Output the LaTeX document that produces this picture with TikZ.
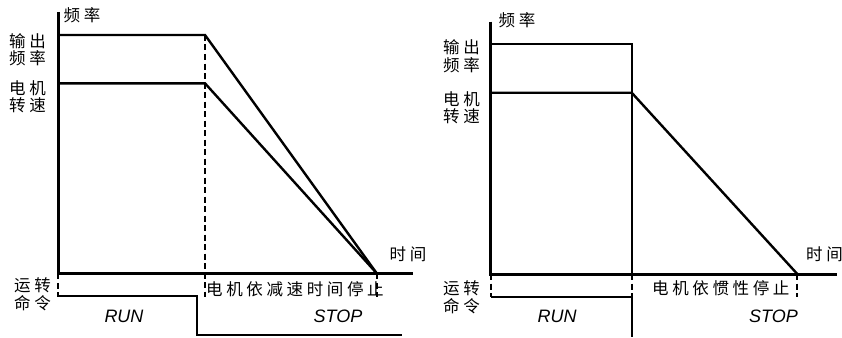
\documentclass[tikz,border=0pt]{standalone}
\usepackage{fontspec}
\setmainfont{Liberation Sans}
\newfontfamily\cjk[LetterSpace=22]{Noto Sans CJK SC}

\begin{document}
\begin{tikzpicture}[x=1pt,y=-1pt,
    axis/.style={line width=3pt},
    trace/.style={line width=2.4pt, line join=miter},
    guide/.style={line width=2pt, dash pattern=on 6pt off 3.5pt},
    cn/.style={font=\cjk\fontsize{16.5}{17.5}\selectfont, inner sep=0pt, align=center},
    sig/.style={font=\itshape\fontsize{18}{20}\selectfont, inner sep=0pt}]
\useasboundingbox (0,0) rectangle (842,337);

% left chart: stop by deceleration time
\coordinate (Lo) at (58.3,273.3);
\coordinate (Ltop) at (58.3,12);
\coordinate (Lend) at (413,273.3);
\coordinate (Lfo) at (58.3,35);
\coordinate (Lfb) at (205,35);
\coordinate (Lmo) at (58.3,83.3);
\coordinate (Lmb) at (205,83.3);
\coordinate (Lz) at (376.7,273.3);
\coordinate (Lcut) at (205,297);
\coordinate (Lrs) at (58.3,297);
\coordinate (Lzs) at (376.7,297);
\coordinate (Lr1) at (58.3,296);
\coordinate (Lr2) at (196.7,296);
\coordinate (Lr3) at (196.7,335);
\coordinate (Lr4) at (401.7,335);

\draw[axis] (Ltop) -- (Lo) -- (Lend);
\draw[trace] (Lfo) -- (Lfb) -- (Lz);
\draw[trace] (Lmo) -- (Lmb) -- (Lz);
\draw[guide] (Lfb) -- (Lcut);
\draw[guide] (Lo) -- (Lrs);
\draw[guide] (Lz) -- (Lzs);
\draw[trace] (Lr1) -- (Lr2) -- (Lr3) -- (Lr4);

\node[cn] (Lfreq) at (82,15.5) {频率};
\node[cn] (Lout) at (27.5,49.5) {输出\\频率};
\node[cn] (Lmot) at (27.5,96.5) {电机\\转速};
\node[cn] (Lcmd) at (32.5,294.5) {运转\\命令};
\node[cn] (Ltime) at (408,254.5) {时间};
\node[cn, anchor=west] (Lstop) at (206,289.5) {电机依减速时间停止};
\node[sig] (Lrun) at (124,316) {RUN};
\node[sig] (Lstp) at (338,316) {STOP};

% right chart: coast to stop
\coordinate (Ro) at (490.7,274);
\coordinate (Rtop) at (490.7,21.7);
\coordinate (Rend) at (836.7,274);
\coordinate (Rfo) at (490.7,44.3);
\coordinate (Rfb) at (631.7,44.3);
\coordinate (Rmo) at (490.7,92.7);
\coordinate (Rmb) at (631.7,92.7);
\coordinate (Rx) at (631.7,274);
\coordinate (Rz) at (797.3,274);
\coordinate (Rcut) at (631.7,297);
\coordinate (Rbot) at (631.7,336.7);
\coordinate (Rrs) at (490.7,297);
\coordinate (Rzs) at (797.3,297);

\draw[axis] (Rtop) -- (Ro) -- (Rend);
\draw[trace] (Rfo) -- (Rfb) -- (Rx);
\draw[trace] (Rmo) -- (Rmb) -- (Rz);
\draw[guide] (Rx) -- (Rcut);
\draw[guide] (Ro) -- (Rrs);
\draw[guide] (Rz) -- (Rzs);
\draw[trace] (Rrs) -- (Rcut) -- (Rbot);

\node[cn] (Rfreq) at (517,20.5) {频率};
\node[cn] (Rout) at (461.5,56) {输出\\频率};
\node[cn] (Rmot) at (461.5,107.5) {电机\\转速};
\node[cn] (Rcmd) at (461.5,297.5) {运转\\命令};
\node[cn] (Rtime) at (824.5,254.5) {时间};
\node[cn, anchor=west] (Rstop) at (652,288) {电机依惯性停止};
\node[sig] (Rrun) at (557,316.5) {RUN};
\node[sig] (Rstp) at (773.5,316.5) {STOP};
\end{tikzpicture}
\end{document}
